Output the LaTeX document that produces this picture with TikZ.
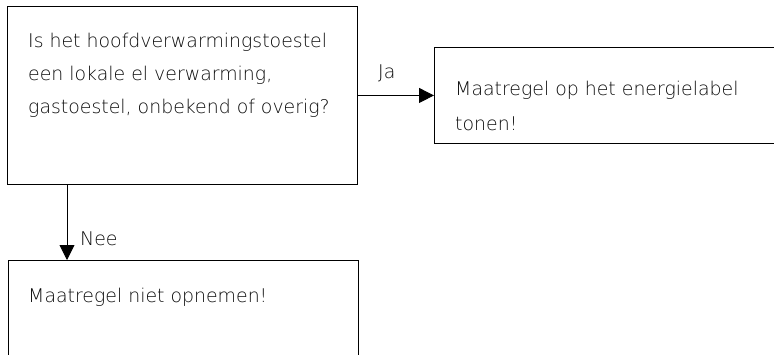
\documentclass[tikz,border=0pt]{standalone}
\usepackage{fontspec}
\setmainfont{DejaVu Sans ExtraLight}
\usetikzlibrary{arrows.meta}
\begin{document}
\begin{tikzpicture}[x=1pt, y=-1pt,
  box/.style={draw, line width=0.9pt, anchor=north west, inner sep=0pt},
  tekst/.style={anchor=base west, inner sep=0pt, align=left, text=black!95,
    font=\fontsize{18.9}{33}\selectfont},
  pijl/.style={draw, line width=0.9pt, -{Triangle[length=15pt, width=15pt]}}]
  \useasboundingbox (0,0) rectangle (774,354);
  \node[box, minimum width=350pt, minimum height=178pt] (vraag) at (7,6) {};
  \node[box, minimum width=380pt, minimum height=96pt] (tonen) at (434,47) {};
  \node[box, minimum width=350pt, minimum height=130pt] (opnemen) at (8,260) {};
  \node[tekst] (vraagtekst) at (28,113) {Is het hoofdverwarmingstoestel\\
    een lokale el verwarming,\\ gastoestel, onbekend of overig?};
  \node[tekst, font=\fontsize{18.9}{35}\selectfont] (tonentekst) at (455,130)
    {Maatregel op het energielabel\\ tonen!};
  \node[tekst] (opnementekst) at (28,302) {Maatregel niet opnemen!};
  \node[tekst] (ja) at (378,78) {Ja};
  \node[tekst] (nee) at (80,245) {Nee};
  \draw[pijl] (vraag.east) -- (tonen.west);
  \draw[pijl] ([xshift=60pt]vraag.south west) -- ([xshift=59pt]opnemen.north west);
\end{tikzpicture}
\end{document}
